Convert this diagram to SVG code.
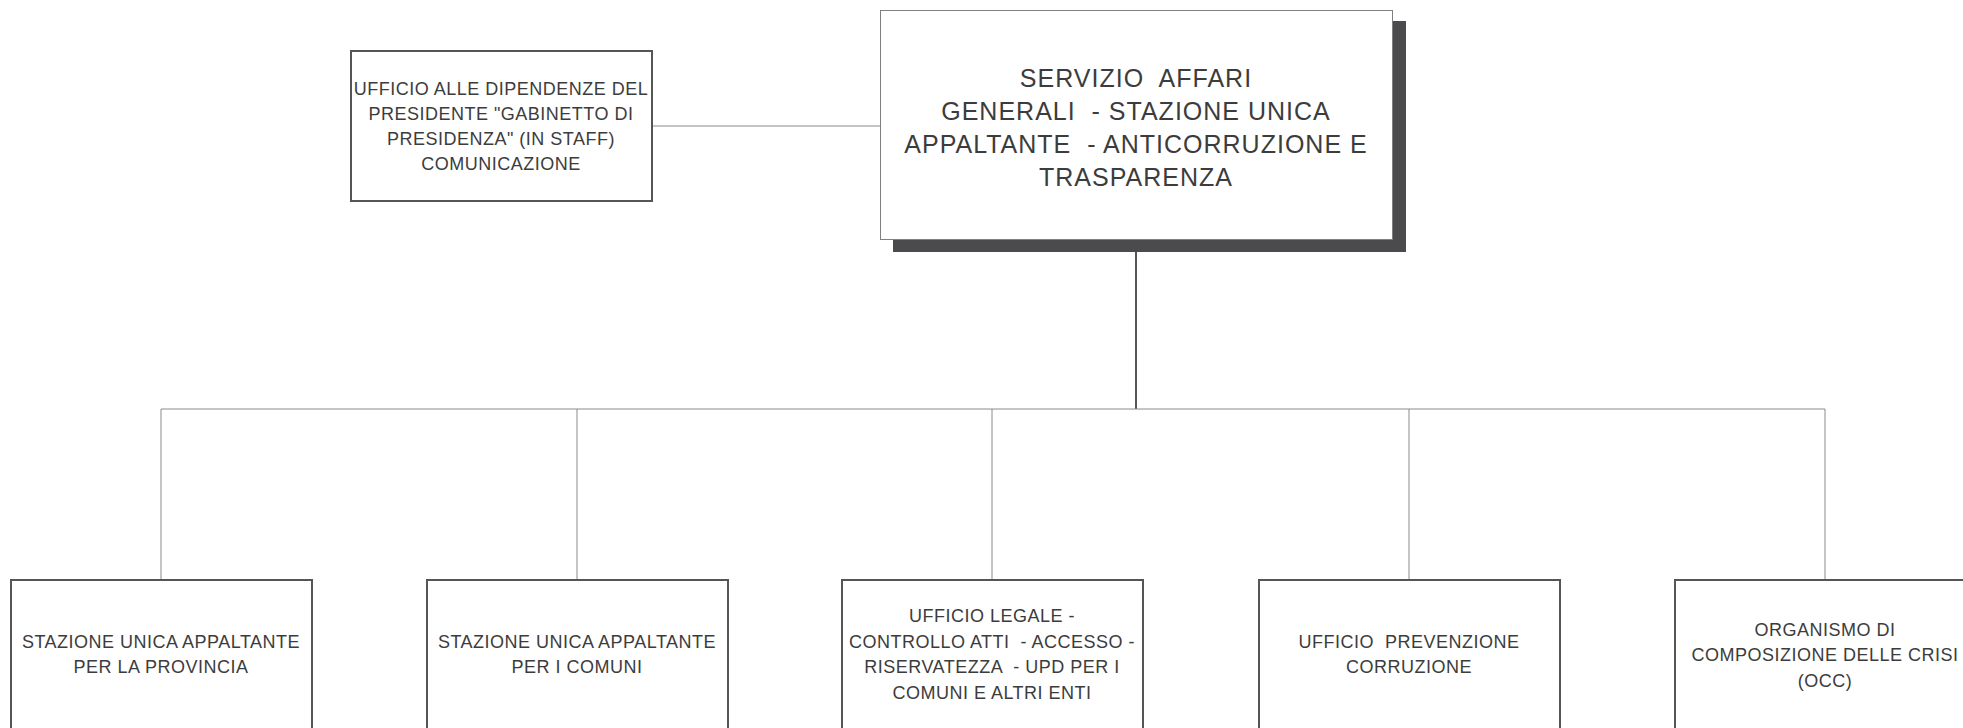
<svg xmlns="http://www.w3.org/2000/svg" width="1963" height="728" viewBox="0 0 1963 728">
<style>
.bg{fill:#ffffff}
.box{fill:#ffffff;stroke:#555555;stroke-width:2}
.main{fill:#ffffff;stroke:#808080;stroke-width:1}
.shadow{fill:#4b4b4d}
.thin{stroke:#8a8a8a;stroke-width:1;fill:none}
.thick{stroke:#555555;stroke-width:2;fill:none}
text{font-family:"Liberation Sans",Arial,sans-serif;fill:#3c3c3c;text-anchor:middle;white-space:pre}
.t16{font-size:18px;letter-spacing:0.5px}
.t22{font-size:25px;letter-spacing:1px}
</style>
<rect class="bg" x="0" y="0" width="1963" height="728"/>
<g id="connectors">
<line class="thin" x1="652" y1="126" x2="880" y2="126"/>
<line class="thick" x1="1136" y1="252" x2="1136" y2="409"/>
<line class="thin" x1="161" y1="409" x2="1825" y2="409"/>
<line class="thin" x1="161" y1="409" x2="161" y2="579"/>
<line class="thin" x1="577" y1="409" x2="577" y2="579"/>
<line class="thin" x1="992" y1="409" x2="992" y2="579"/>
<line class="thin" x1="1409" y1="409" x2="1409" y2="579"/>
<line class="thin" x1="1825" y1="409" x2="1825" y2="579"/>
</g>
<g id="main">
<rect class="shadow" x="893" y="21" width="513" height="231"/>
<rect class="main" x="880.5" y="10.5" width="512" height="229"/>
<text class="t22"><tspan x="1136" y="87">SERVIZIO  AFFARI</tspan><tspan x="1136" y="120">GENERALI  - STAZIONE UNICA</tspan><tspan x="1136" y="153">APPALTANTE  - ANTICORRUZIONE E</tspan><tspan x="1136" y="186">TRASPARENZA</tspan></text>
</g>
<g id="staff">
<rect class="box" x="351" y="51" width="301" height="150"/>
<text class="t16"><tspan x="501" y="95">UFFICIO ALLE DIPENDENZE DEL</tspan><tspan x="501" y="120">PRESIDENTE "GABINETTO DI</tspan><tspan x="501" y="145">PRESIDENZA" (IN STAFF)</tspan><tspan x="501" y="170">COMUNICAZIONE</tspan></text>
</g>
<g id="n1">
<rect class="box" x="11" y="580" width="301" height="200"/>
<text class="t16"><tspan x="161" y="648">STAZIONE UNICA APPALTANTE</tspan><tspan x="161" y="673">PER LA PROVINCIA</tspan></text>
</g>
<g id="n2">
<rect class="box" x="427" y="580" width="301" height="200"/>
<text class="t16"><tspan x="577" y="648">STAZIONE UNICA APPALTANTE</tspan><tspan x="577" y="673">PER I COMUNI</tspan></text>
</g>
<g id="n3">
<rect class="box" x="842" y="580" width="301" height="200"/>
<text class="t16"><tspan x="992" y="622">UFFICIO LEGALE -</tspan><tspan x="992" y="648">CONTROLLO ATTI  - ACCESSO -</tspan><tspan x="992" y="673">RISERVATEZZA  - UPD PER I</tspan><tspan x="992" y="699">COMUNI E ALTRI ENTI</tspan></text>
</g>
<g id="n4">
<rect class="box" x="1259" y="580" width="301" height="200"/>
<text class="t16"><tspan x="1409" y="648">UFFICIO  PREVENZIONE</tspan><tspan x="1409" y="673">CORRUZIONE</tspan></text>
</g>
<g id="n5">
<rect class="box" x="1675" y="580" width="301" height="200"/>
<text class="t16"><tspan x="1825" y="636">ORGANISMO DI</tspan><tspan x="1825" y="661">COMPOSIZIONE DELLE CRISI</tspan><tspan x="1825" y="687">(OCC)</tspan></text>
</g>
</svg>
